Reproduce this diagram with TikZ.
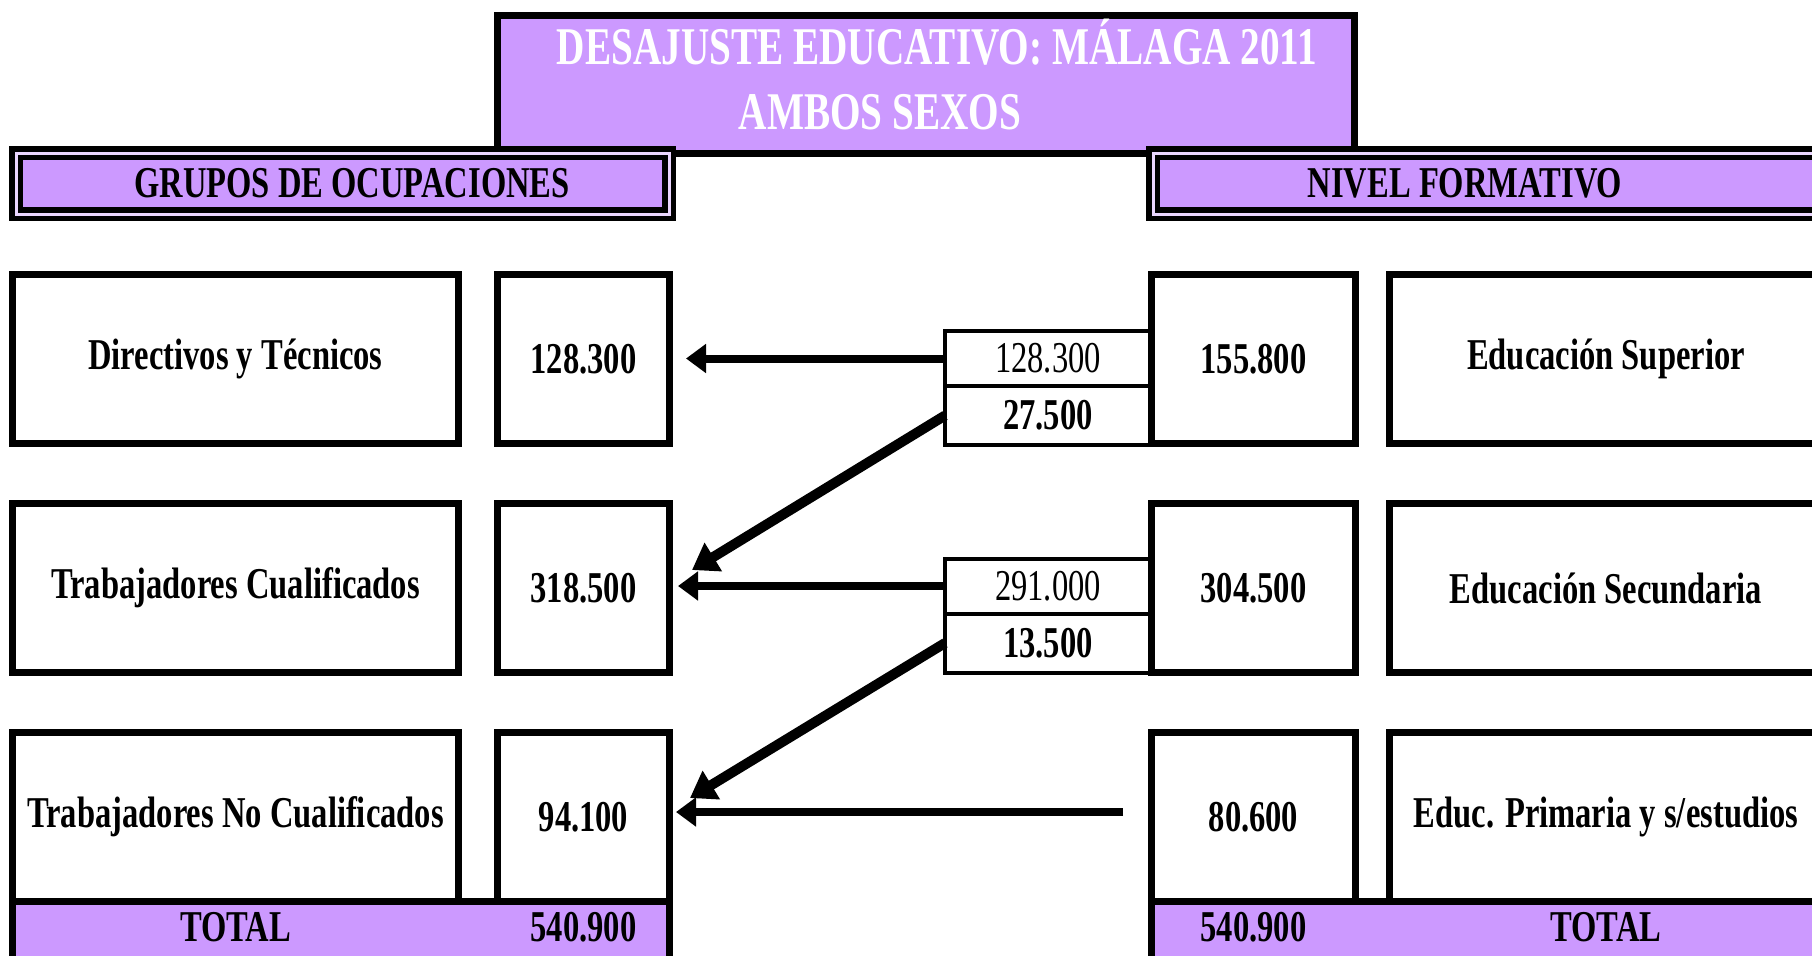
\documentclass[tikz,border=0pt]{standalone}
\usepackage{fontspec}
\setmainfont{Liberation Serif}[FakeStretch=0.74]
\usetikzlibrary{positioning,arrows.meta}
\definecolor{lavanda}{HTML}{CC99FF}
\newcommand{\tam}{\fontsize{22}{26}\selectfont}

\begin{document}
\begin{tikzpicture}[x=0.5pt,y=-0.5pt,
    caja/.style={draw,line width=3.5pt,fill=white,minimum height=84.5pt,inner sep=0pt,font=\tam\bfseries},
    medio/.style={draw,line width=2pt,fill=white,minimum width=103pt,inner sep=0pt,outer sep=0pt,font=\tam},
    cabecera/.style={draw,fill=lavanda,line width=2.75pt,double=lavanda!40!white,double distance=1.5pt,
      minimum height=30.5pt,inner sep=0pt,font=\tam\bfseries},
    cajatitulo/.style={draw,fill=lavanda,line width=3.5pt,minimum width=428.5pt,minimum height=69pt,inner sep=0pt},
    textotitulo/.style={inner sep=0pt,align=center,text=white,font=\fontsize{26.5}{32.5}\selectfont\bfseries},
    total/.style={draw,fill=lavanda,line width=3.5pt,minimum height=50pt,inner sep=0pt},
    rotulo/.style={inner sep=0pt,font=\tam\bfseries},
    flecha/.style={line width=4pt,-{Triangle[length=10pt,width=14pt]}},
    flechad/.style={line width=5pt,-{Triangle[length=12.5pt,width=16pt]}}]

  \useasboundingbox (0,0) rectangle (1812,955);
  \clip (0,0) rectangle (1812,955);

  % cabeceras
  \node[cajatitulo] (titulo) at (926,84.5) {};
  \node[textotitulo] (titulotxt) at (926,75) {\hspace*{11pt}DESAJUSTE EDUCATIVO: MÁLAGA 2011\\AMBOS SEXOS\hspace*{46pt}};
  \node[cabecera,minimum width=326.5pt] (grupos) at (342.5,183.5) {\hspace*{9.5pt}GRUPOS DE OCUPACIONES};
  \node[cabecera,minimum width=340pt] (nivel) at (1493,183.5) {NIVEL FORMATIVO\hspace*{28pt}};

  % ocupaciones
  \node[caja,minimum width=223pt] (l1) at (235.5,359) {Directivos y Técnicos};
  \node[caja,minimum width=86pt,right=16pt of l1] (v1) {128.300};
  \node[caja,minimum width=223pt,below=26.5pt of l1] (l2) {Trabajadores Cualificados};
  \node[caja,minimum width=86pt,right=16pt of l2] (v2) {318.500};
  \node[caja,minimum width=223pt,below=26.5pt of l2] (l3) {Trabajadores No Cualificados};
  \node[caja,minimum width=86pt,right=16pt of l3] (v3) {94.100};

  % flujos
  \node[medio,minimum height=27.5pt] (m1a) at (1048,358.5) {128.300};
  \node[medio,minimum height=29.5pt,below=0pt of m1a,font=\tam\bfseries] (m1b) {27.500};
  \node[medio,minimum height=27.5pt] (m2a) at (1048,586) {291.000};
  \node[medio,minimum height=29.5pt,below=0pt of m2a,font=\tam\bfseries] (m2b) {13.500};

  % nivel formativo
  \node[caja,minimum width=102pt] (r1) at (1253.5,359) {155.800};
  \node[caja,minimum width=216.5pt,right=13.5pt of r1] (n1) {Educación Superior};
  \node[caja,minimum width=102pt,below=26.5pt of r1] (r2) {304.500};
  \node[caja,minimum width=216.5pt,right=13.5pt of r2] (n2) {Educación Secundaria};
  \node[caja,minimum width=102pt,below=26.5pt of r2] (r3) {80.600};
  \node[caja,minimum width=216.5pt,right=13.5pt of r3] (n3) {Educ. Primaria y s/estudios};

  % totales
  \node[total,minimum width=328.5pt] (totizq) at (341,951.5) {};
  \node[rotulo] (totizq1) at (235.5,927) {TOTAL};
  \node[rotulo] (totizq2) at (583.5,927) {540.900};
  \node[total,minimum width=350pt] (totder) at (1501.5,951.5) {};
  \node[rotulo] (totder1) at (1253.5,927) {540.900};
  \node[rotulo] (totder2) at (1606,927) {TOTAL};

  % flechas
  \coordinate (ini3) at (1123,812);
  \coordinate (fin2) at (692,570);
  \coordinate (fin3) at (690,798);
  \draw[flecha,shorten >=6.5pt] (m1a.west) -- (m1a.west -| v1.east);
  \draw[flechad] (m1b.west) -- (fin2);
  \draw[flecha,shorten >=2.5pt] (m2a.west) -- (m2a.west -| v2.east);
  \draw[flechad] (m2b.west) -- (fin3);
  \draw[flecha,shorten >=1.5pt] (ini3) -- (ini3 -| v3.east);

\end{tikzpicture}
\end{document}
